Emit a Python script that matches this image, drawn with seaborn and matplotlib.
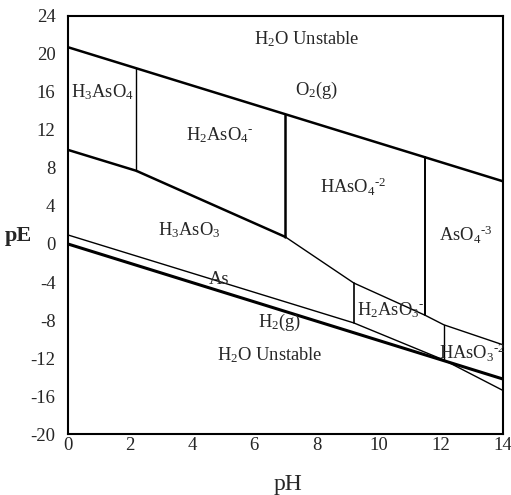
import pandas as pd
import matplotlib.pyplot as plt
import seaborn as sns

# boundary lines (pH, pE)
o2_ph = [0, 14]
o2_pe = [20.7, 6.6]

h2_ph = [0, 14]
h2_pe = [0.0, -14.2]

as_ph = [0, 9.2, 12.1, 14]
as_pe = [0.95, -8.3, -12.2, -15.4]

redox_thick_ph = [0, 2.2, 7.0]
redox_thick_pe = [9.9, 7.7, 0.74]
redox_thin_ph = [7.0, 9.2, 11.5, 12.1, 14]
redox_thin_pe = [0.74, -4.1, -7.5, -8.5, -10.6]

# vertical acid/base boundaries: (pH, pE bottom, pE top, width)
vert_ph = [2.2, 7.0, 9.2, 11.5, 12.1]
vert_lo = [7.7, 0.74, -8.3, -7.5, -12.2]
vert_hi = [18.5, 13.6, -4.1, 9.1, -8.5]
vert_lw = [1.0, 1.8, 1.2, 1.4, 1.0]

# species labels
labels = [r'H$_2$O Unstable', r'O$_2$(g)', r'H$_3$AsO$_4$', r'H$_2$AsO$_4$$^{\text{-}}$',
          r'HAsO$_4$$^{\text{-2}}$', r'AsO$_4$$^{\text{-3}}$', r'H$_3$AsO$_3$', 'As',
          r'H$_2$(g)', r'H$_2$O Unstable', r'H$_2$AsO$_3$$^{\text{-}}$', r'HAsO$_3$$^{\text{-2}}$']
label_ph = [7.7, 8.0, 1.1, 4.9, 9.2, 12.8, 3.9, 4.85, 6.8, 6.5, 10.4, 13.0]
label_pe = [21.6, 16.2, 16.0, 11.5, 6.0, 0.95, 1.5, -3.7, -8.2, -11.7, -7.0, -11.5]

sns.set_style('white')
plt.rcParams['font.family'] = ['Liberation Serif', 'DejaVu Serif']
plt.rcParams['mathtext.fontset'] = 'custom'
plt.rcParams['mathtext.rm'] = 'Liberation Serif'
plt.rcParams['mathtext.it'] = 'Liberation Serif'
plt.rcParams['axes.unicode_minus'] = False

fig = plt.figure(figsize=(5.11, 4.95), dpi=100)
ax = fig.add_axes([0.133, 0.123, 0.851, 0.845])

def seg(x, y, lw):
    df = pd.DataFrame({'pH': x, 'pE': y})
    sns.lineplot(data=df, x='pH', y='pE', color='black', linewidth=lw,
                 estimator=None, sort=False, ax=ax)

seg(o2_ph, o2_pe, 1.8)
seg(h2_ph, h2_pe, 2.2)
seg(as_ph, as_pe, 1.0)
seg(redox_thick_ph, redox_thick_pe, 1.8)
seg(redox_thin_ph, redox_thin_pe, 1.0)
for p, lo, hi, w in zip(vert_ph, vert_lo, vert_hi, vert_lw):
    seg([p, p], [lo, hi], w)

for t, x, y in zip(labels, label_ph, label_pe):
    ax.text(x, y, t, ha='center', va='center', fontsize=13.3)

ax.set_xlim(0, 14)
ax.set_ylim(-20, 24)
ax.set_xticks(range(0, 15, 2))
ax.set_yticks(range(-20, 25, 4))
ax.tick_params(labelsize=13.5, length=0)
ax.tick_params(axis='x', pad=2)
ax.tick_params(axis='y', pad=9)
for s in ax.spines.values():
    s.set_color('black')
    s.set_linewidth(1.5)
ax.set_xlabel('pH', fontsize=17, va='center', ha='center')
ax.set_ylabel('pE', fontsize=16, fontweight='bold', rotation=0, va='center', ha='center')
ax.xaxis.set_label_coords(0.505, -0.12)
ax.yaxis.set_label_coords(-0.115, 0.473)

plt.savefig('out.png', dpi=100)
